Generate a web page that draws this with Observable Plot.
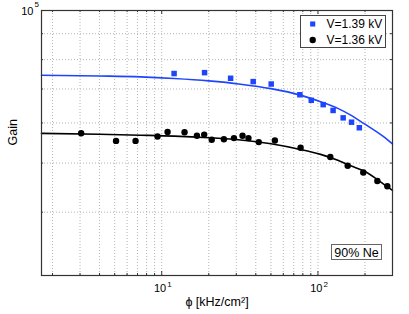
<!DOCTYPE html>
<html><head><meta charset="utf-8">
<script src="https://cdn.jsdelivr.net/npm/d3@7"></script>
<script src="https://cdn.jsdelivr.net/npm/@observablehq/plot@0.6"></script>
<style>
body{margin:0;background:#fff}
svg{font-family:"Liberation Sans",Arial,Helvetica,sans-serif}
</style>
</head><body><div id="chart"></div>
<script>
// Series
const seriesNames = ["V=1.39 kV", "V=1.36 kV"];
const seriesColors = ["#1f45fc", "#000000"];
const seriesSymbols = ["square", "circle"];

// Measured points, V=1.39 kV
const phiA = [12, 18.8, 27.6, 38.5, 50.2, 76.6, 90.6, 108, 125, 145, 164, 184];
const gainA = [75100, 75400, 73500, 72400, 71600, 68200, 66500, 65200, 63500, 61400, 60200, 58700];

// Measured points, V=1.36 kV
const phiB = [3.05, 5.1, 6.8, 9.4, 10.9, 14.0, 16.8, 18.7, 20.9, 25.0, 29.0, 32.9, 35.9, 41.8, 53.0, 77.4, 120, 155, 195, 240, 278];
const gainB = [57250, 55300, 55300, 56400, 57600, 57500, 56600, 56900, 55600, 55700, 56000, 56600, 56000, 55000, 55400, 53600, 51400, 49400, 47900, 46100, 45000];

// Fit curves
const fitPhi = [1.7, 4, 7.3, 12, 20, 32, 50, 77, 104, 134, 162, 196, 263, 300];
const fitA = [74530, 74260, 73960, 73420, 72630, 71550, 70110, 68080, 66030, 64100, 62170, 59890, 56370, 54530];
const fitB = [57210, 57000, 56750, 56510, 56090, 55540, 54590, 53200, 52010, 50620, 49370, 48270, 45450, 44160];

// Ticks
const xMajor = [10, 100];
const xMinor = [2, 3, 4, 5, 6, 7, 8, 9, 20, 30, 40, 50, 60, 70, 80, 90, 200, 300];
const yMajor = [100000];
const yMinor = [30000, 40000, 50000, 60000, 70000, 80000, 90000];

const xLabel = "ϕ [kHz/cm²]";
const yLabel = "Gain";
const note = "90% Ne";

const W = 409, H = 314;
const mL = 41, mR = 17, mT = 10, mB = 39;
const pw = W - mL - mR, ph = H - mT - mB;
const gridStyle = {stroke: "#b4b4b4", strokeDasharray: "1,2", strokeWidth: 1};
const axisColor = "#333";

const chart = Plot.plot({
  width: W, height: H,
  marginLeft: mL, marginRight: mR, marginTop: mT, marginBottom: mB,
  style: {fontFamily: '"Liberation Sans", Arial, sans-serif', background: "#fff"},
  x: {type: "log", domain: [1.7, 300], axis: null},
  y: {type: "log", domain: [30000, 100000], axis: null},
  marks: [
    Plot.ruleX(xMinor.concat(xMajor), {x: d => d, ...gridStyle}),
    Plot.ruleY(yMinor, {y: d => d, ...gridStyle}),
    // inward ticks
    Plot.tickX(xMinor, {x: d => d, stroke: axisColor, insetTop: ph - 2}),
    Plot.tickX(xMinor, {x: d => d, stroke: axisColor, insetBottom: ph - 2}),
    Plot.tickX(xMajor, {x: d => d, stroke: axisColor, insetTop: ph - 4}),
    Plot.tickX(xMajor, {x: d => d, stroke: axisColor, insetBottom: ph - 4}),
    Plot.tickY(yMinor, {y: d => d, stroke: axisColor, insetRight: pw - 2}),
    Plot.tickY(yMinor, {y: d => d, stroke: axisColor, insetLeft: pw - 2}),
    // fits
    Plot.line(fitPhi, {x: d => d, y: (d, i) => fitA[i], curve: "monotone-x", stroke: seriesColors[0], strokeWidth: 1.6}),
    Plot.line(fitPhi, {x: d => d, y: (d, i) => fitB[i], curve: "monotone-x", stroke: seriesColors[1], strokeWidth: 1.6}),
    // points
    Plot.dot(phiA, {x: d => d, y: (d, i) => gainA[i], symbol: seriesSymbols[0], r: 3.1, fill: seriesColors[0], stroke: "none"}),
    Plot.dot(phiB, {x: d => d, y: (d, i) => gainB[i], symbol: seriesSymbols[1], r: 3.2, fill: seriesColors[1], stroke: "none"}),
    Plot.frame({stroke: axisColor, strokeWidth: 1.2}),
    // x tick labels
    Plot.text(xMajor, {x: d => d, frameAnchor: "bottom", dy: 16, text: () => "10", textAnchor: "end", dx: 4.5, fontSize: 11, fill: "#000"}),
    Plot.text(xMajor, {x: d => d, frameAnchor: "bottom", dy: 11, text: d => String(Math.round(Math.log10(d))), textAnchor: "start", dx: 5.5, fontSize: 8, fill: "#000"}),
    // y tick label
    Plot.text(yMajor, {y: d => d, frameAnchor: "left", dx: -8, dy: 1, text: () => "10", textAnchor: "end", fontSize: 11, fill: "#000"}),
    Plot.text(yMajor, {y: d => d, frameAnchor: "left", dx: -7, dy: -6, text: d => String(Math.round(Math.log10(d))), textAnchor: "start", fontSize: 8, fill: "#000"}),
    // axis titles
    Plot.text([yLabel], {frameAnchor: "left", dx: -29, dy: 2.5, rotate: -90, text: d => d, fontSize: 12.5, fill: "#000"}),
    Plot.text([xLabel], {frameAnchor: "bottom", dy: 30, text: d => d, fontSize: 12.5, fill: "#000"})
  ]
});
document.getElementById("chart").appendChild(chart);

// Legend and annotation box
const svg = d3.select(chart);
const lg = svg.append("g");
lg.append("rect").attr("x", 300.5).attr("y", 15.5).attr("width", 85).attr("height", 32)
  .attr("fill", "#fff").attr("stroke", "#444").attr("stroke-width", 1);
seriesNames.forEach((name, i) => {
  const cy = 24 + i * 16;
  const sym = d3.symbol().type(seriesSymbols[i] === "square" ? d3.symbolSquare : d3.symbolCircle)
    .size(seriesSymbols[i] === "square" ? 26 : 32);
  lg.append("path").attr("d", sym()).attr("transform", `translate(312.7,${cy})`).attr("fill", seriesColors[i]);
  lg.append("text").attr("x", 326.5).attr("y", cy).attr("dy", "0.36em").attr("text-anchor", "start")
    .attr("font-size", 12).attr("fill", "#000").text(name);
});
const nb = svg.append("g");
nb.append("rect").attr("x", 331.5).attr("y", 244.5).attr("width", 50).attr("height", 15)
  .attr("fill", "#fff").attr("stroke", "#666").attr("stroke-width", 1);
nb.append("text").attr("x", 356.5).attr("y", 252).attr("dy", "0.36em").attr("text-anchor", "middle")
  .attr("font-size", 12.5).attr("fill", "#000").text(note);
</script>
</body></html>
